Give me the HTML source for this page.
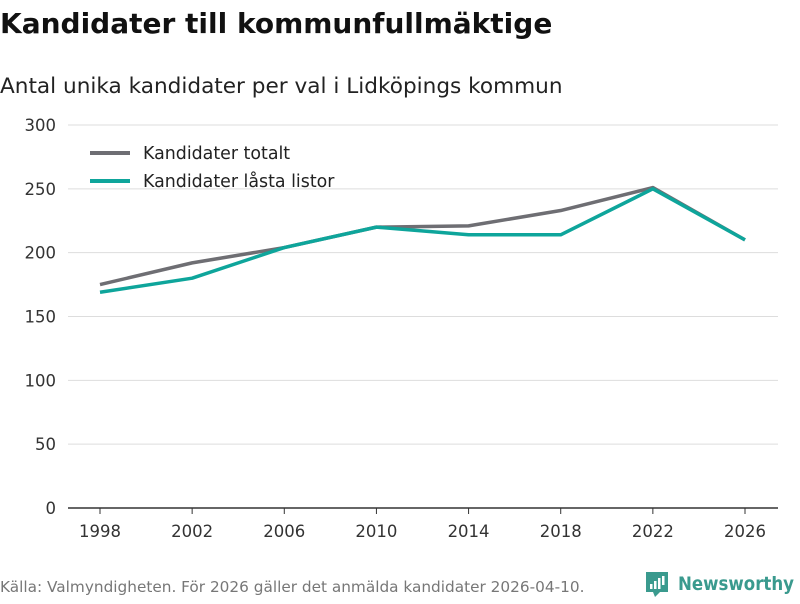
<!DOCTYPE html>
<html><head><meta charset="utf-8"><style>
body{margin:0;background:#fff;font-family:"DejaVu Sans","Liberation Sans",sans-serif;}
</style></head><body>
<svg id="c" width="800" height="600" xmlns="http://www.w3.org/2000/svg">
<text x="0" y="33" font-size="28" font-weight="bold" fill="#111">Kandidater till kommunfullmäktige</text>
<text x="0" y="93" font-size="21.6" fill="#222">Antal unika kandidater per val i Lidköpings kommun</text>
<g id="grid"></g><g id="xa"></g><g id="lines"></g>
<g>
<line x1="90" y1="153" x2="130" y2="153" stroke="#6e6e73" stroke-width="4"/>
<text x="143" y="159" font-size="17.4" fill="#222">Kandidater totalt</text>
<line x1="90" y1="181" x2="130" y2="181" stroke="#0ea59b" stroke-width="4"/>
<text x="143" y="187" font-size="17.4" fill="#222">Kandidater låsta listor</text>
</g>
<text x="0" y="592" font-size="15.3" fill="#777">Källa: Valmyndigheten. För 2026 gäller det anmälda kandidater 2026-04-10.</text>
<g>
<path d="M646 572h22v20h-8l-5 5-2-5h-7z" fill="#3a9a8e"/>
<rect x="650" y="584" width="2.5" height="5" fill="#fff"/><rect x="654" y="581" width="2.5" height="8" fill="#fff"/><rect x="658" y="578" width="2.5" height="11" fill="#fff"/><rect x="662" y="576" width="2.5" height="9" fill="#fff"/>
<text x="678" y="590" font-size="19" font-weight="600" fill="#3a9a8e" textLength="116" lengthAdjust="spacingAndGlyphs">Newsworthy</text>
</g>
</svg>
<script>
const years=[1998,2002,2006,2010,2014,2018,2022,2026];
const totalValues=[175,192,204,220,221,233,251,210];
const lockedValues=[169,180,204,220,214,214,250,210];
const yTicks=[0,50,100,150,200,250,300];
const NS="http://www.w3.org/2000/svg";
const x=v=>100+(v-1998)/28*645;
const y=v=>508-v*383/300;
function mk(t,a,p){const e=document.createElementNS(NS,t);for(const k in a)e.setAttribute(k,a[k]);p.appendChild(e);return e;}
const g=document.getElementById('grid');
yTicks.forEach(t=>{
 const l=mk('line',{x1:68,x2:778,y1:y(t),y2:y(t),stroke:t===0?'#333':'#ddd','stroke-width':t===0?1.5:1},g);
 
 
 const tx=mk('text',{x:56,y:y(t)+6,'text-anchor':'end','font-size':16.5,fill:'#333'},g);
 tx.textContent=t;
 
 
});
const xa=document.getElementById('xa');
years.forEach(yr=>{
 const l=mk('line',{x1:x(yr),x2:x(yr),y1:508,y2:514,stroke:'#333'},xa);
 
 
 const t=mk('text',{x:x(yr),y:537,'text-anchor':'middle','font-size':16.5,fill:'#333'},xa);
 t.textContent=yr;
 
 
});
const lg=document.getElementById('lines');
[[totalValues,'#6e6e73','line-total'],[lockedValues,'#0ea59b','line-locked']].forEach(([vals,c,n])=>{
 const p=mk('polyline',{points:vals.map((v,i)=>x(years[i])+','+y(v)).join(' '),fill:'none',stroke:c,'stroke-width':3.5,'stroke-linejoin':'round'},lg);
 
 
});
</script>
</body></html>
